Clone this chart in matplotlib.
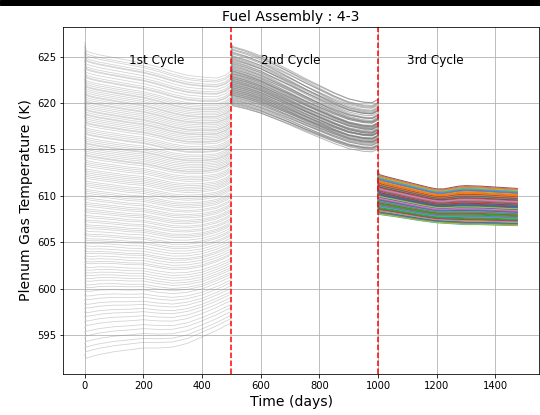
import numpy as np
import matplotlib
matplotlib.use('Agg')
import matplotlib.pyplot as plt
from matplotlib.patches import Rectangle

# ---- 1st cycle (days 0-500): pin levels just after start-up, shape depends on level
c1_days = [0, 6, 25, 50, 100, 150, 200, 250, 300, 350, 400, 450, 480, 500]
c1_anchor = [592.5, 601.0, 610.0, 625.6]
c1_low = [0.4, 0.0, 0.2, 0.4, 0.7, 0.9, 1.1, 1.1, 1.2, 1.6, 2.3, 3.0, 3.5, 3.8]
c1_lowmid = [0.6, 0.0, 0.0, 0.1, 0.1, 0.0, 0.0, -0.3, -0.5, -0.4, -0.1, 0.5, 0.9, 1.2]
c1_mid = [0.7, 0.0, -0.1, -0.2, -0.4, -0.6, -0.7, -1.0, -1.3, -1.4, -1.3, -1.0, -0.6, -0.2]
c1_top = [0.9, 0.0, -0.2, -0.4, -0.7, -1.0, -1.3, -1.7, -2.2, -2.6, -2.8, -2.9, -2.6, -2.1]
c1_levels = [
    625.6, 625.3, 625.1, 624.8, 624.6, 624.5, 624.2, 623.9, 623.7, 623.6,
    623.3, 623.0, 622.8, 622.7, 622.4, 622.2, 622.0, 621.8, 621.7, 621.5,
    621.3, 621.1, 620.9, 620.8, 620.6, 620.4, 620.2, 620.1, 619.9, 619.7,
    619.5, 619.3, 619.2, 619.0, 618.8, 618.7, 618.5, 618.3, 618.1, 617.9,
    617.8, 617.6, 617.3, 617.1, 616.9, 616.7, 616.6, 616.3, 616.1, 615.9,
    615.7, 615.6, 615.4, 615.2, 615.0, 614.8, 614.6, 614.4, 614.3, 614.1,
    613.8, 613.6, 613.4, 613.2, 612.9, 612.7, 612.5, 612.3, 612.1, 611.9,
    611.6, 611.4, 611.2, 611.0, 610.7, 610.5, 610.3, 610.1, 609.8, 609.6,
    609.3, 609.1, 608.9, 608.6, 608.4, 608.2, 607.9, 607.7, 607.4, 607.2,
    606.9, 606.7, 606.5, 606.2, 605.9, 605.7, 605.4, 605.2, 604.9, 604.6,
    604.3, 604.0, 603.8, 603.5, 603.2, 602.9, 602.7, 602.3, 602.0, 601.7,
    601.4, 601.1, 600.8, 600.4, 600.1, 599.7, 599.2, 598.8, 598.3, 597.9,
    597.4, 597.0, 596.5, 596.0, 595.4, 594.9, 594.3, 593.7, 593.2, 592.5,
]

# ---- 2nd cycle (days 500-1000): start level and total drop per pin
c2_days = [500, 504, 550, 600, 650, 700, 750, 800, 850, 900, 950, 980, 1000]
c2_shape = [-0.06, 0.0, 0.07, 0.17, 0.30, 0.43, 0.57, 0.70, 0.83, 0.94, 1.0, 1.01, 0.95]
c2_start = [
    626.1, 626.0, 625.8, 625.7, 625.5, 625.4, 625.3, 625.1, 625.0, 624.9,
    624.8, 624.7, 624.6, 624.5, 624.4, 624.3, 624.2, 624.1, 624.0, 623.9,
    623.8, 623.7, 623.6, 623.5, 623.45, 623.4, 623.3, 623.2, 623.15, 623.1,
    623.0, 622.9, 622.85, 622.8, 622.7, 622.65, 622.6, 622.5, 622.45, 622.4,
    622.3, 622.25, 622.2, 622.1, 622.05, 622.0, 621.9, 621.85, 621.8, 621.7,
    621.65, 621.6, 621.5, 621.45, 621.4, 621.3, 621.25, 621.2, 621.1, 621.05,
    621.0, 620.9, 620.85, 620.8, 620.7, 620.6, 620.5, 620.4, 620.3, 620.2,
    620.1, 620.0, 619.9, 619.8, 619.7,
]
c2_drop = [
    6.0, 6.3, 5.7, 6.1, 6.4, 5.6, 6.0, 6.2, 5.5, 5.9,
    6.3, 5.8, 5.4, 6.1, 5.7, 6.2, 5.3, 5.9, 6.0, 5.5,
    5.8, 6.1, 5.2, 5.6, 5.9, 6.0, 5.4, 5.7, 5.1, 5.8,
    5.5, 6.0, 5.3, 5.6, 5.9, 5.0, 5.4, 5.7, 5.2, 5.8,
    5.5, 4.9, 5.3, 5.6, 5.1, 5.4, 5.7, 4.8, 5.2, 5.5,
    5.0, 5.3, 5.6, 4.9, 5.2, 5.4, 4.7, 5.1, 5.3, 4.8,
    5.0, 5.3, 4.6, 5.0, 5.2, 4.7, 5.0, 5.2, 4.6, 4.9,
    5.1, 4.8, 4.7, 5.0, 4.6,
]

# ---- 3rd cycle (days 1000-1475)
c3_days = [1000, 1004, 1025, 1050, 1075, 1100, 1125, 1150, 1175, 1200,
           1225, 1250, 1275, 1300, 1350, 1400, 1450, 1475]
c3_anchor = [608.0, 612.3]
c3_low = [0.3, 0.0, -0.1, -0.2, -0.33, -0.45, -0.58, -0.7, -0.8, -0.9,
          -0.95, -1.0, -1.05, -1.1, -1.1, -1.15, -1.2, -1.2]
c3_top = [0.5, 0.0, -0.2, -0.4, -0.6, -0.8, -1.0, -1.2, -1.4, -1.55,
          -1.55, -1.4, -1.25, -1.2, -1.25, -1.35, -1.45, -1.5]
c3_levels = [
    610.4, 608.9, 611.7, 609.5, 612.1, 608.3, 610.9, 609.8, 611.2, 608.6,
    610.1, 611.9, 609.2, 608.1, 610.6, 612.3, 609.0, 611.4, 608.8, 610.3,
    609.6, 611.0, 608.4, 612.0, 609.9, 610.7, 608.2, 611.6, 609.3, 610.0,
    611.8, 608.7, 610.5, 609.4, 612.2, 608.5, 611.3, 609.7, 610.8, 608.0,
    611.1, 609.1, 610.2, 611.5, 608.9, 609.55, 611.95, 610.45, 608.35, 610.95,
    609.85, 611.25, 608.65, 610.15, 611.85, 609.25, 610.65, 608.15, 611.65, 609.45,
    610.05, 612.15, 608.75, 610.55, 609.65, 611.35, 608.45, 610.85, 609.95, 611.05,
    608.25, 611.55, 609.15, 610.35, 611.75, 608.55, 610.75, 609.35, 612.05, 608.85,
    610.25, 611.45, 609.05, 610.95, 608.95, 611.15, 609.75, 610.6, 608.05, 611.9,
]

cycle_labels = ['1st Cycle', '2nd Cycle', '3rd Cycle']
cycle_label_x = [150, 600, 1100]
cycle_ends = [500, 1000]

fig = plt.figure(figsize=(540 / 72, 415 / 72), dpi=72)
ax = fig.add_axes([63 / 540, 1 - 374 / 415, 476 / 540, 347 / 415])

c1_tmpl = np.array([c1_low, c1_lowmid, c1_mid, c1_top])
for lev in c1_levels:
    off = [np.interp(lev, c1_anchor, c1_tmpl[:, k]) for k in range(len(c1_days))]
    ax.plot(c1_days, lev + np.array(off), color='gray', alpha=0.35, lw=0.8)

for s, d in zip(c2_start, c2_drop):
    ax.plot(c2_days, s - d * np.array(c2_shape), color='gray', alpha=0.55, lw=1.0)

c3_tmpl = np.array([c3_low, c3_top])
for lev in c3_levels:
    off = [np.interp(lev, c3_anchor, c3_tmpl[:, k]) for k in range(len(c3_days))]
    ax.plot(c3_days, lev + np.array(off), lw=1.0)

for xe in cycle_ends:
    ax.axvline(xe, color='red', ls='--', lw=1.5)

for lab, xl in zip(cycle_labels, cycle_label_x):
    ax.text(xl, 624.2, lab, fontsize=12, ha='left', va='baseline')

ax.grid(True)
ax.set_title('Fuel Assembly : 4-3', fontsize=14, x=0.479)
ax.set_xlabel('Time (days)', fontsize=14, x=0.479)
ax.set_ylabel('Plenum Gas Temperature (K)', fontsize=14)

fig.patches.append(Rectangle((0, 1 - 5 / 415), 1, 5 / 415, transform=fig.transFigure,
                             color='black', zorder=10))

fig.savefig('out.png', dpi=72)
